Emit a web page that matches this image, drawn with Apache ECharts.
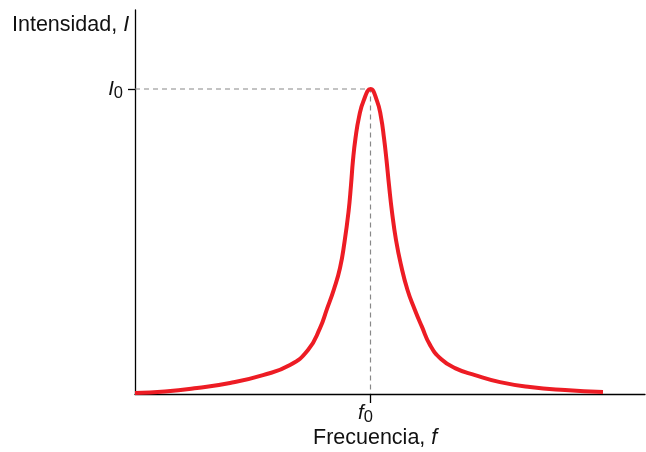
<!DOCTYPE html>
<html><head><meta charset="utf-8">
<script src="https://cdn.jsdelivr.net/npm/echarts@6/dist/echarts.min.js"></script>
<style>html,body{margin:0;padding:0;background:#fff}#c{width:646px;height:452px}</style>
</head><body><div id="c"></div>
<script>
// frequency (arbitrary units, f0 = 235.5) and intensity (% of I0)
const freq = [0, 30, 62, 95, 128, 155, 173, 185, 192, 199, 205, 209.5, 213.5, 216, 218, 220.5, 224, 228.5, 235.5, 242, 246, 249, 251.5, 254, 257, 261, 266, 272.5, 279.5, 287, 295, 306, 320, 340, 365, 395, 430, 468];
const intensity = [0.33, 0.82, 1.97, 3.6, 6.2, 9.5, 14.4, 21.6, 27.9, 34.4, 41.3, 49.8, 59.7, 68.5, 76.7, 83.9, 90.8, 96.1, 100, 96.1, 90.8, 83.9, 76.7, 68.5, 59.7, 50.5, 42.3, 34.1, 27.9, 22, 16.1, 11.5, 8.5, 6.2, 3.9, 2.3, 1.3, 0.66];
const f0 = 235.5, I0 = 100;
const xMax = 510, yMax = 125.9;
const xTitle = 'Frecuencia, ', yTitle = 'Intensidad, ';

const chart = echarts.init(document.getElementById('c'), null, {renderer: 'canvas'});
const font = 'Liberation Sans, Arial, Helvetica, sans-serif';
const symRich = {
  i: {fontFamily: font, fontStyle: 'italic', fontSize: 20.5, color: '#111'},
  s: {fontFamily: font, fontSize: 16.5, color: '#111', verticalAlign: 'bottom', padding: [9, 0, 0, 0]}
};
const titleRich = {
  a: {fontFamily: font, fontSize: 21.5, fill: '#111'},
  b: {fontFamily: font, fontSize: 21.5, fontStyle: 'italic', fill: '#111'}
};
chart.setOption({
  animation: false,
  grid: {left: 135, right: 1, top: 10, bottom: 58},
  xAxis: {
    type: 'value', min: 0, max: xMax,
    axisLine: {lineStyle: {color: '#000', width: 1.3}},
    splitLine: {show: false},
    axisTick: {show: true, customValues: [f0], length: 9, lineStyle: {color: '#000', width: 1.3}},
    axisLabel: {show: true, customValues: [f0], margin: 6, padding: [0, 10, 0, 0],
      formatter: () => '{i|f}{s|0}', rich: symRich}
  },
  yAxis: {
    type: 'value', min: 0, max: yMax,
    axisLine: {show: true, lineStyle: {color: '#000', width: 1.3}},
    splitLine: {show: false},
    axisTick: {show: true, customValues: [I0], length: 7, lineStyle: {color: '#000', width: 1.3}},
    axisLabel: {show: true, customValues: [I0], margin: 12,
      formatter: () => '{i|I}{s|0}', rich: symRich}
  },
  series: [
    {type: 'line', data: [[0, I0], [f0, I0], [f0, 0]], symbol: 'none', silent: true,
     lineStyle: {color: '#888', width: 1.2, type: [5, 4]}, z: 1},
    {type: 'line', data: freq.map((f, i) => [f, intensity[i]]), smooth: 0.5, symbol: 'none',
     lineStyle: {color: '#ED1C24', width: 4}, z: 3}
  ],
  graphic: [
    {type: 'text', left: 12, top: 14, style: {rich: titleRich, text: '{a|' + yTitle + '}{b|I}'}},
    {type: 'text', left: 313, top: 427, style: {rich: titleRich, text: '{a|' + xTitle + '}{b|f}'}}
  ]
});
</script></body></html>
